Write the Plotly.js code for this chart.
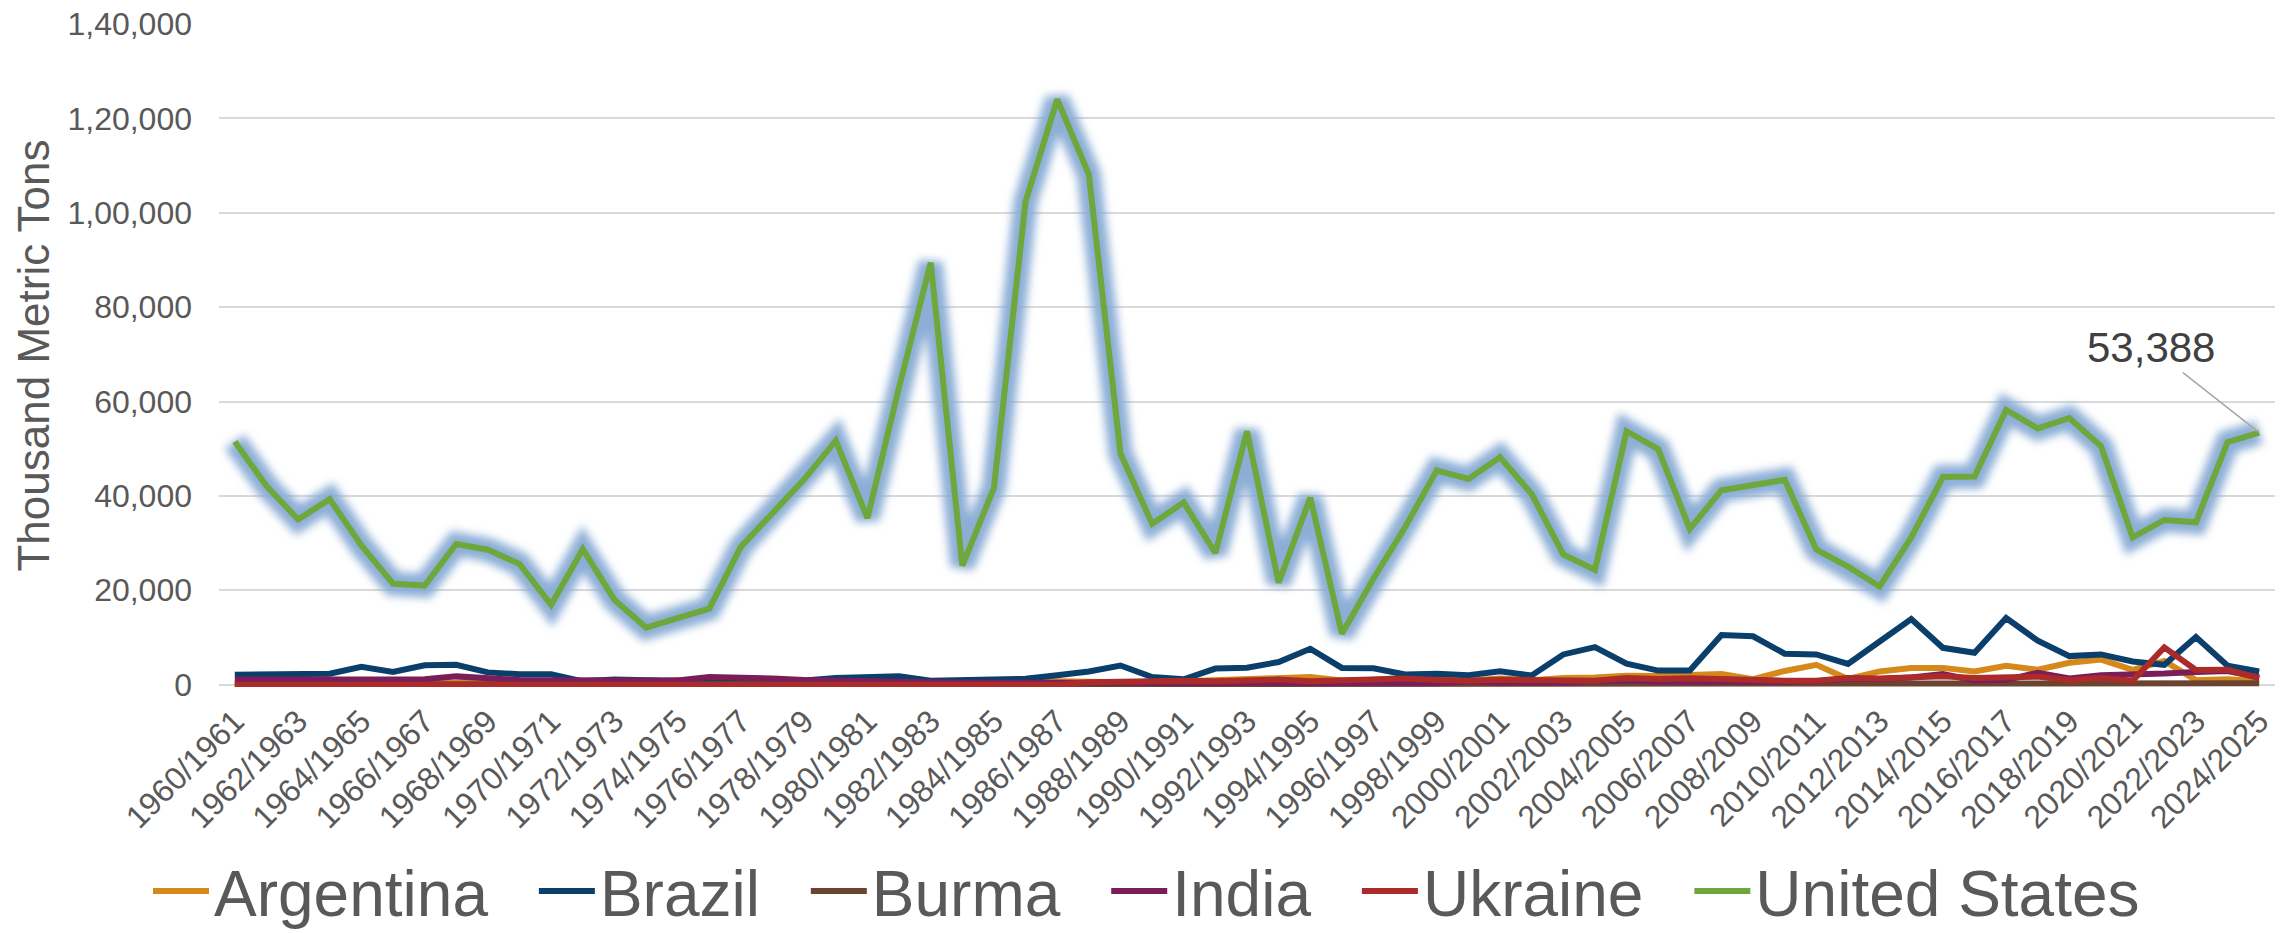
<!DOCTYPE html>
<html>
<head>
<meta charset="utf-8">
<script src="https://cdn.plot.ly/plotly-3.0.1.min.js"></script>
<style>
  html, body { margin: 0; padding: 0; background: #ffffff; }
  #chart { width: 2293px; height: 933px; }
</style>
</head>
<body>
<div id="chart"></div>
<script>
// ---------------- DATA ----------------
const years = [];
for (let y = 1960; y <= 2024; y++) years.push(y + "/" + (y + 1));

const argentina = [400, 300, 300, 400, 300, 300, 400, 600, 500, 400,
  300, 300, 300, 500, 1000, 500, 300, 400, 500, 400,
  300, 500, 600, 400, 700, 800, 700, 600, 500, 400,
  700, 900, 1200, 1400, 1600, 900, 1000, 1500, 1500, 900,
  1300, 950, 1400, 1500, 1900, 1850, 2050, 2250, 1150, 2900,
  4200, 1200, 2800, 3500, 3550, 2800, 4000, 3150, 4650, 5300,
  3150, 5000, 950, 1150, 700];

const brazil = [2100, 2200, 2200, 2300, 3800, 2700, 4100, 4200, 2600, 2200,
  2200, 700, 1100, 900, 800, 600, 700, 800, 900, 1400,
  1600, 1800, 850, 950, 1200, 1250, 2000, 2800, 4050, 1600,
  1130, 3400, 3600, 4800, 7600, 3550, 3450, 2170, 2330, 1970,
  2820, 1950, 6400, 7950, 4450, 2980, 2980, 10500, 10250, 6550,
  6400, 4380, 9150, 13900, 7800, 6750, 14100, 9300, 6050, 6400,
  4900, 4200, 10100, 4000, 2800];

const burma = [30, 30, 40, 40, 30, 30, 40, 40, 50, 40,
  40, 30, 30, 40, 40, 30, 40, 40, 50, 50,
  50, 40, 40, 50, 50, 60, 60, 50, 50, 60,
  60, 70, 70, 80, 80, 90, 90, 100, 100, 110,
  120, 130, 130, 140, 150, 150, 160, 170, 170, 180,
  190, 200, 200, 210, 220, 230, 230, 240, 250, 250,
  260, 270, 270, 280, 280];

const india = [1100, 1100, 1050, 1100, 1100, 1050, 1150, 1750, 1300, 1000,
  950, 900, 1000, 800, 900, 1600, 1600, 1300, 1000, 800,
  700, 600, 500, 400, 400, 300, 300, 300, 300, 300,
  300, 500, 400, 400, 500, 500, 400, 300, 300, 700,
  400, 500, 400, 700, 900, 600, 500, 500, 600, 600,
  700, 1250, 1200, 1500, 2240, 900, 1000, 2500, 1300, 2000,
  2100, 2350, 2700, 2900, 1550];

const ukraine = [0, 0, 0, 0, 0, 0, 0, 0, 0, 0,
  0, 0, 0, 0, 0, 0, 0, 0, 0, 0,
  0, 0, 0, 0, 0, 0, 0, 500, 700, 700,
  800, 700, 800, 1100, 700, 900, 800, 1300, 1000, 800,
  1050, 1050, 850, 850, 1400, 1200, 1330, 1100, 900, 850,
  850, 1400, 1300, 1600, 1800, 1400, 1400, 1700, 950, 1400,
  840, 7900, 3100, 3150, 1400];

const unitedStates = [51500, 42100, 35000, 39300, 29500, 21400, 21000, 29800, 28600, 25600,
  16900, 28700, 18000, 12100, 14100, 16100, 29200, 36500, 43500, 51700,
  35300, 63000, 89400, 25200, 41700, 102400, 124000, 108100, 49000, 34100,
  38600, 27900, 53700, 21600, 39600, 10800, 22500, 33400, 45400, 43600,
  48200, 40400, 27600, 24300, 53700, 49900, 33000, 41200, 42400, 43400,
  28600, 25000, 20800, 31200, 44000, 44100, 58200, 54300, 56500, 50500,
  31200, 34900, 34400, 51400, 53388];

const yTickVals = [0, 20000, 40000, 60000, 80000, 100000, 120000, 140000];
const yTickText = ["0", "20,000", "40,000", "60,000", "80,000", "1,00,000", "1,20,000", "1,40,000"];
const xTickVals = years.filter((_, i) => i % 2 === 0);
const labelText = "53,388";

// ---------------- STYLE ----------------
const FONT = "Liberation Sans, Arial, sans-serif";
const GREY = "#595959";
const lw = 6;
const PAD = "\u00a0\u00a0\u200a"; // spacing between legend entries

function line(name, yv, color, pad) {
  return { type: "scatter", mode: "lines", name: name + (pad ? PAD : ""), x: years, y: yv,
           line: { color: color, width: lw, shape: "linear" }, hoverinfo: "skip" };
}

const glowTrace = { type: "scatter", mode: "lines", x: years, y: unitedStates, showlegend: false,
  line: { color: "rgba(135,170,212,0.95)", width: 24 }, hoverinfo: "skip" };

const traces = [
  line("Argentina", argentina, "#D6891B", true),
  line("Brazil", brazil, "#0B3F6B", true),
  line("Burma", burma, "#6B4431", true),
  line("India", india, "#7A1E5A", true),
  line("Ukraine", ukraine, "#AB2B2B", true),
  glowTrace,
  line("United States", unitedStates, "#6EA83C", false)
];

const layout = {
  width: 2293, height: 933,
  margin: { l: 219, r: 18, t: 24, b: 246, pad: 0 },
  paper_bgcolor: "#ffffff", plot_bgcolor: "#ffffff",
  font: { family: FONT, color: GREY },
  showlegend: true,
  xaxis: {
    type: "category",
    range: [-0.5, 64.5],
    tickmode: "array", tickvals: xTickVals, ticktext: xTickVals,
    tickangle: -45,
    tickfont: { family: FONT, size: 32, color: GREY },
    ticks: "", showgrid: false, zeroline: false, showline: false,
    ticklabelstandoff: 8,
    automargin: false
  },
  yaxis: {
    range: [-500, 140000],
    tickmode: "array", tickvals: yTickVals, ticktext: yTickText,
    tickfont: { family: FONT, size: 32, color: GREY },
    ticks: "", showline: false, zeroline: false,
    showgrid: true, gridcolor: "#D9D9D9", gridwidth: 2,
    ticklabelstandoff: 26,
    title: { text: "Thousand Metric Tons", font: { family: FONT, size: 44, color: GREY }, standoff: 4 },
    automargin: false
  },
  legend: {
    orientation: "h",
    xref: "container", yref: "container",
    x: 0.5, xanchor: "center",
    y: 0, yanchor: "bottom",
    font: { family: FONT, size: 64, color: GREY },
    itemwidth: 56,
    borderwidth: 0,
    bgcolor: "rgba(0,0,0,0)"
  },
  annotations: [{
    x: years[years.length - 1], y: unitedStates[unitedStates.length - 1],
    xref: "x", yref: "y",
    text: labelText,
    font: { family: FONT, size: 42, color: "#404040" },
    showarrow: true, arrowhead: 0, arrowwidth: 1.5, arrowcolor: "#A6A6A6",
    ax: -108, ay: -85, standoff: 0
  }]
};

Plotly.newPlot("chart", traces, layout, { displayModeBar: false, staticPlot: true }).then(function (gd) {
  // soft glow: blur the wide halo trace drawn under the United States line
  const svg = gd.querySelector(".main-svg");
  const NS = "http://www.w3.org/2000/svg";
  let defs = svg.querySelector("defs");
  if (!defs) { defs = document.createElementNS(NS, "defs"); svg.insertBefore(defs, svg.firstChild); }
  const filter = document.createElementNS(NS, "filter");
  filter.setAttribute("id", "usGlow");
  filter.setAttribute("filterUnits", "userSpaceOnUse");
  filter.setAttribute("x", "-50"); filter.setAttribute("y", "-50");
  filter.setAttribute("width", "2400"); filter.setAttribute("height", "1050");
  const blur = document.createElementNS(NS, "feGaussianBlur");
  blur.setAttribute("stdDeviation", "4");
  filter.appendChild(blur);
  defs.appendChild(filter);
  const traceGroups = gd.querySelectorAll(".scatterlayer .trace");
  const glowGroup = traceGroups[5];
  if (glowGroup) {
    glowGroup.querySelectorAll("path.js-line").forEach(function (p) {
      p.setAttribute("filter", "url(#usGlow)");
    });
  }
  // nudge the legend a few pixels lower, as in the reference
  const leg = gd.querySelector(".legend");
  if (leg) {
    const t = leg.getAttribute("transform") || "";
    const m = t.match(/translate\(\s*([-\d.]+)[ ,]+([-\d.]+)\s*\)/);
    if (m) leg.setAttribute("transform", "translate(" + m[1] + "," + (parseFloat(m[2]) + 7) + ")");
  }
});
</script>
</body>
</html>
